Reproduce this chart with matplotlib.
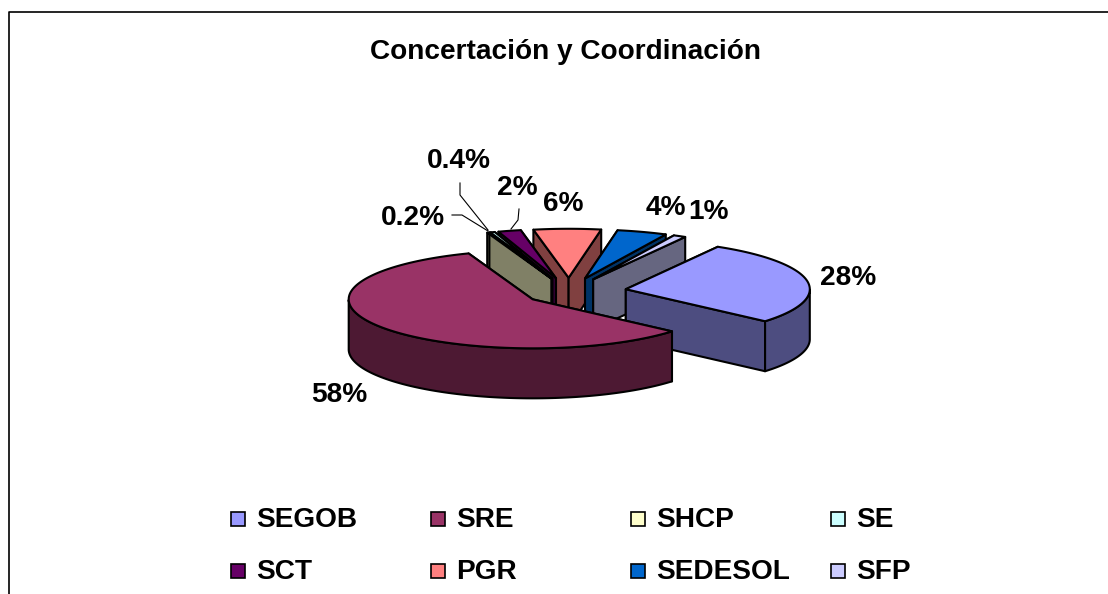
import numpy as np
import matplotlib
matplotlib.use("Agg")
import matplotlib.pyplot as plt

plt.rcParams['font.family'] = ['Liberation Sans', 'DejaVu Sans']

names = ["SEGOB", "SRE", "SHCP", "SE", "SCT", "PGR", "SEDESOL", "SFP"]
shares = [28, 58, 0.2, 0.4, 2, 5.9, 4.4, 1.1]
pct_labels = ["28%", "58%", "0.2%", "0.4%", "2%", "6%", "4%", "1%"]
top_colors = ["#9999FF", "#993366", "#FFFFCC", "#CCFFFF", "#660066", "#FF8080", "#0066CC", "#CCCCFF"]
side_colors = ["#4D4D80", "#4D1933", "#808066", "#668080", "#330033", "#804040", "#003366", "#666680"]
label_pos = [(848, 277), (339, 394), (413, 217), (459, 160), (517, 187), (563, 203), (666, 207), (708, 211)]

cx, cy = 575, 291.5   # pie centre in pixels
rx, ry = 184, 49
depth = 50
explode = 0.28
start = 60            # first slice starts here, goes clockwise
back_shift = -6       # far slices sit a bit more to the left

fig = plt.figure(figsize=(11.08, 5.94), dpi=100)
ax = fig.add_axes([0, 0, 1, 1])
ax.set_xlim(0, 1108)
ax.set_ylim(594, 0)
ax.axis('off')

# chart frame, cut off at the bottom and right
ax.plot([9, 9, 1108], [594, 12, 12], color='black', lw=1.2)

ax.text(566, 52, "Concertación y Coordinación", fontsize=20.2, fontweight='bold', ha='center', va='center')

fracs = np.array(shares) / sum(shares)
ends = start - np.cumsum(fracs) * 360
starts = ends + fracs * 360
mids = (starts + ends) / 2


def rim(ax0, ay0, t):
    r = np.radians(t)
    return ax0 + rx * np.cos(r), ay0 - ry * np.sin(r)


# back slices first
for i in np.argsort(-np.sin(np.radians(mids))):
    m = np.radians(mids[i])
    ax0 = cx + explode * rx * np.cos(m)
    ay0 = cy - explode * ry * np.sin(m)
    if np.sin(m) > 0.5:
        ax0 += back_shift
    n = max(int(abs(starts[i] - ends[i])), 2) + 1
    ts = np.linspace(starts[i], ends[i], n)
    xs, ys = rim(ax0, ay0, ts)

    # cut faces
    for t in [starts[i], ends[i]]:
        x1, y1 = rim(ax0, ay0, t)
        ax.fill([ax0, x1, x1, ax0], [ay0, y1, y1 + depth, ay0 + depth],
                facecolor=side_colors[i], edgecolor='black', lw=1.5, joinstyle='round')

    # outer wall, only the part that faces us
    front = np.sin(np.radians(ts)) <= 0
    if front.sum() > 1:
        fx, fy = xs[front], ys[front]
        ax.fill(np.r_[fx, fx[::-1]], np.r_[fy, fy[::-1] + depth],
                facecolor=side_colors[i], edgecolor='black', lw=1.5, joinstyle='round')

    ax.fill(np.r_[ax0, xs], np.r_[ay0, ys], facecolor=top_colors[i],
            edgecolor='black', lw=1.5, joinstyle='round')

# leader lines of the small slices
ax.plot([460, 460, 488], [183, 195, 230], color='black', lw=0.8)
ax.plot([452, 462, 488], [215, 215, 231], color='black', lw=0.8)
ax.plot([519, 518, 511], [209, 220, 229], color='black', lw=0.8)

for lab, (x, y) in zip(pct_labels, label_pos):
    ax.text(x, y + 1, lab, fontsize=20.2, fontweight='bold', ha='center', va='center')

# legend, 4 columns
for i, name in enumerate(names):
    x = 231 + 200 * (i % 4)
    y = 519 + 52 * (i // 4)
    ax.add_patch(plt.Rectangle((x, y - 7), 14, 14, facecolor=top_colors[i], edgecolor='black', lw=1.2))
    ax.text(x + 25, y + 1, name, fontsize=20.2, fontweight='bold', ha='left', va='center')

fig.savefig("out.png", dpi=100)
